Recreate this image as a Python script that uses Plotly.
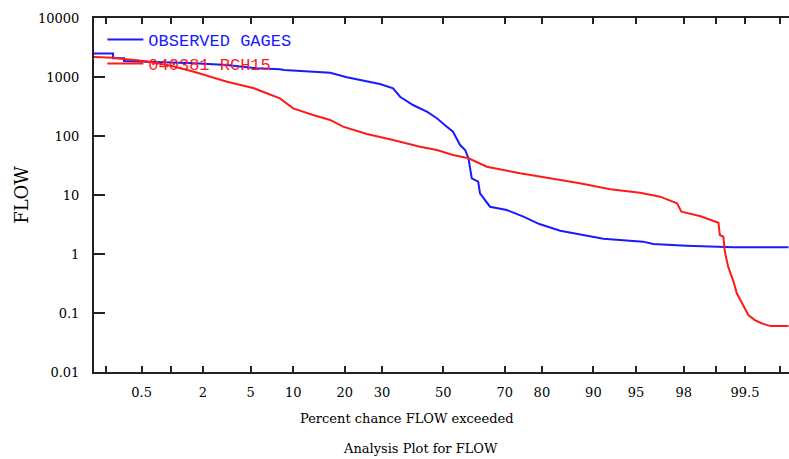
from statistics import NormalDist
import plotly.graph_objects as go

# ---- data (percent chance exceeded, flow) ----
obs_pct = [0.14, 0.24, 0.24, 0.32, 0.32, 0.61, 1.0, 1.66, 3.24, 5.6, 8.15, 8.7, 16.7, 20.5,
           29.4, 33.4, 35.6, 39.8, 44.4, 47.8, 51.2, 53.3, 55.7, 57.4, 58.5, 59.6, 61.7, 62.3,
           65.5, 70.6, 75.3, 79.4, 84.1, 89.0, 91.4, 95.6, 96.35, 98.1, 99.34, 99.84]
obs_flow = [2500, 2500, 2075, 2075, 1866, 1800, 1795, 1706, 1596, 1404, 1351, 1314, 1183, 988,
            760, 643, 463, 335, 258, 200, 144, 118, 70.3, 57.9, 41.9, 19.2, 16.8, 10.7,
            6.33, 5.57, 4.29, 3.22, 2.48, 2.02, 1.82, 1.62, 1.48, 1.38, 1.30, 1.30]

sim_pct = [0.14, 0.24, 0.32, 0.53, 1.0, 1.66, 3.24, 5.3, 8.15, 10.0, 13.3, 16.7, 19.6, 25.7,
           33.4, 42.1, 47.8, 53.3, 58.5, 64.5, 74.4, 79.6, 87.8, 92.3, 95.35, 96.8, 97.7, 97.9,
           98.6, 99.06, 99.09, 99.16, 99.19, 99.25, 99.34, 99.39, 99.48, 99.54, 99.61, 99.67,
           99.74, 99.84]
sim_flow = [2183, 2124, 2018, 1866, 1555, 1231, 832, 643, 435, 294, 227, 187, 144, 108,
            85.5, 65.9, 57.9, 47.6, 41.9, 30.2, 23.3, 20.4, 15.8, 12.5, 10.9, 9.36, 7.23, 5.21,
            4.35, 3.39, 2.10, 1.96, 1.09, 0.61, 0.34, 0.216, 0.137, 0.0925, 0.076, 0.067,
            0.060, 0.060]

x_tick_pct = [0.2, 0.5, 1, 2, 5, 10, 20, 30, 50, 70, 80, 90, 95, 98, 99, 99.5, 99.8]
x_tick_text = ["", "0.5", "", "2", "5", "10", "20", "30", "50", "70", "80", "90", "95", "98", "", "99.5", ""]
y_tick_vals = [0.01, 0.1, 1, 10, 100, 1000, 10000]
y_tick_text = ["0.01", "0.1", "1", "10", "100", "1000", "10000"]

nd = NormalDist()
def prob(p):
    return nd.inv_cdf(p / 100.0)

SERIF = "DejaVu Serif"
MONO = "Liberation Mono"
BLUE = "#1a1aff"
RED = "#ff1a1a"

fig = go.Figure()
fig.add_trace(go.Scatter(x=[prob(p) for p in obs_pct], y=obs_flow, mode="lines",
                         name="OBSERVED GAGES", line=dict(color=BLUE, width=2),
                         legend="legend", showlegend=True))
fig.add_trace(go.Scatter(x=[prob(p) for p in sim_pct], y=sim_flow, mode="lines",
                         name="040381 RCH15", line=dict(color=RED, width=2),
                         legend="legend2", showlegend=True))

fig.update_layout(
    width=789, height=459,
    margin=dict(l=94, r=0, t=18, b=87),
    paper_bgcolor="white", plot_bgcolor="white",
    showlegend=True,
    font=dict(family=SERIF, size=13, color="black"),
    xaxis=dict(range=[-2.983, 2.952], tickvals=[prob(p) for p in x_tick_pct], ticktext=x_tick_text,
               ticks="inside", ticklen=6, tickwidth=2, tickcolor="#222",
               showline=True, linewidth=2, linecolor="#222", mirror="ticks",
               showgrid=False, zeroline=False, ticklabelstandoff=7,
               tickfont=dict(family=SERIF, size=13)),
    yaxis=dict(type="log", range=[-2, 4], tickvals=y_tick_vals, ticktext=y_tick_text,
               ticks="inside", ticklen=11, tickwidth=2, tickcolor="#222",
               showline=True, linewidth=2, linecolor="#222", mirror=False,
               showgrid=False, zeroline=False, ticklabelstandoff=10,
               tickfont=dict(family=SERIF, size=13),
               title=dict(text="FLOW", font=dict(family=SERIF, size=18), standoff=5)),
    legend=dict(x=0.012, y=0.989, xanchor="left", yanchor="top", bgcolor="rgba(0,0,0,0)",
                font=dict(family=MONO, size=17, color=BLUE), itemwidth=36),
    legend2=dict(x=0.012, y=0.921, xanchor="left", yanchor="top", bgcolor="rgba(0,0,0,0)",
                 font=dict(family=MONO, size=17, color=RED), itemwidth=36),
    annotations=[
        dict(text="Percent chance FLOW exceeded", xref="paper", yref="paper",
             x=(407 - 94) / 695, y=-(418 - 372) / 354, xanchor="center", yanchor="middle",
             showarrow=False, font=dict(family=SERIF, size=13)),
        dict(text="Analysis Plot for FLOW", xref="paper", yref="paper",
             x=(420 - 94) / 695, y=-(448 - 372) / 354, xanchor="center", yanchor="middle",
             showarrow=False, font=dict(family=SERIF, size=13)),
    ],
)

fig.write_html("out.html")
